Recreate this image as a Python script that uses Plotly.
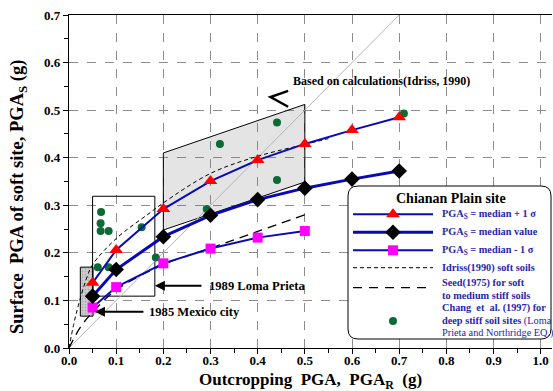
import plotly.graph_objects as go

# ---------------- data ----------------
pga_r = [0.05, 0.1, 0.2, 0.3, 0.4, 0.5, 0.6, 0.7]
pga_plus = [0.137, 0.206, 0.292, 0.351, 0.395, 0.429, 0.458, 0.485]
pga_median = [0.109, 0.165, 0.234, 0.279, 0.312, 0.336, 0.355, 0.372]
pga_r_minus = [0.05, 0.1, 0.2, 0.3, 0.4, 0.5]
pga_minus = [0.085, 0.128, 0.178, 0.209, 0.232, 0.246]

idriss_x = [0.0, 0.01, 0.02, 0.035, 0.05, 0.1, 0.17, 0.2, 0.3, 0.4, 0.5, 0.55]
idriss_y = [0.0, 0.05, 0.09, 0.14, 0.175, 0.23, 0.283, 0.305, 0.367, 0.403, 0.428, 0.44]

seed_x = [0.0, 0.025, 0.05, 0.1, 0.2, 0.3, 0.4, 0.5]
seed_y = [0.0, 0.045, 0.075, 0.122, 0.175, 0.21, 0.245, 0.28]

chang_x = [0.068, 0.067, 0.067, 0.084, 0.061, 0.084, 0.154, 0.184, 0.292, 0.32, 0.441, 0.441, 0.71]
chang_y = [0.286, 0.262, 0.246, 0.246, 0.170, 0.170, 0.254, 0.190, 0.292, 0.429, 0.474, 0.353, 0.493]

diag_x = [0.0, 0.7]
diag_y = [0.0, 0.7]

# annotated regions
calc_x = [0.2, 0.5, 0.5, 0.2, 0.2]
calc_y = [0.41, 0.512, 0.349, 0.248, 0.41]
loma_x = [0.05, 0.182, 0.182, 0.05, 0.05]
loma_y = [0.109, 0.109, 0.319, 0.319, 0.109]
mex_x = [0.024, 0.051, 0.051, 0.024, 0.024]
mex_y = [0.067, 0.067, 0.170, 0.170, 0.067]

x_ticks = [0.0, 0.1, 0.2, 0.3, 0.4, 0.5, 0.6, 0.7, 0.8, 0.9, 1.0]
y_ticks = [0.0, 0.1, 0.2, 0.3, 0.4, 0.5, 0.6, 0.7]

FONT = "Liberation Serif"
BLUE = "#0a0ab4"
TXTBLUE = "#2626b0"

fig = go.Figure()

# regions
fig.add_trace(go.Scatter(x=calc_x, y=calc_y, mode="lines", fill="toself",
                         fillcolor="rgba(120,120,120,0.2)", line=dict(color="black", width=1),
                         hoverinfo="skip", showlegend=False))
fig.add_trace(go.Scatter(x=mex_x, y=mex_y, mode="lines", fill="toself",
                         fillcolor="#c8c8c8",
                         fillpattern=dict(shape=".", bgcolor="#cfcfcf", fgcolor="#8a8a8a", size=3, solidity=0.3),
                         line=dict(color="black", width=1), hoverinfo="skip", showlegend=False))
fig.add_trace(go.Scatter(x=loma_x, y=loma_y, mode="lines", line=dict(color="black", width=1),
                         hoverinfo="skip", showlegend=False))

# 1:1 line
fig.add_trace(go.Scatter(x=diag_x, y=diag_y, mode="lines", line=dict(color="#b4b4b4", width=1),
                         showlegend=False))
# reference curves
fig.add_trace(go.Scatter(x=idriss_x, y=idriss_y, mode="lines", line_shape="spline",
                         line=dict(color="black", width=1, dash="4px,3px"), showlegend=False))
fig.add_trace(go.Scatter(x=seed_x, y=seed_y, mode="lines", line_shape="spline",
                         line=dict(color="black", width=1.3, dash="9px,6px"), showlegend=False))

# Chang dots
fig.add_trace(go.Scatter(x=chang_x, y=chang_y, mode="markers",
                         marker=dict(color="#0b6b35", size=8, symbol="circle"), showlegend=False))

# Chianan plain series
fig.add_trace(go.Scatter(x=pga_r_minus, y=pga_minus, mode="lines+markers",
                         line=dict(color=BLUE, width=2),
                         marker=dict(symbol="square", color="#ff00ff", size=10), showlegend=False))
fig.add_trace(go.Scatter(x=pga_r, y=pga_median, mode="lines+markers",
                         line=dict(color=BLUE, width=3),
                         marker=dict(symbol="diamond", color="black", size=12), showlegend=False))
fig.add_trace(go.Scatter(x=pga_r, y=pga_plus, mode="lines+markers",
                         line=dict(color=BLUE, width=2),
                         marker=dict(symbol="triangle-up", color="red", size=12), showlegend=False))

# empty trace so the overlaid tick axis is certainly drawn
fig.add_trace(go.Scatter(x=[], y=[], xaxis="x3", yaxis="y", mode="markers",
                         showlegend=False, hoverinfo="skip"))

# ---------------- custom legend (pixel-coordinate overlay subplot) ----------------
LX0, LX1 = 353, 433
rows = [214.3, 232.3, 250.3, 267.7, 287.7, 321]
fig.add_trace(go.Scatter(x=[LX0, LX1], y=[rows[0]] * 2, xaxis="x2", yaxis="y2", mode="lines",
                         line=dict(color=BLUE, width=2), showlegend=False, hoverinfo="skip"))
fig.add_trace(go.Scatter(x=[393], y=[rows[0]], xaxis="x2", yaxis="y2", mode="markers",
                         marker=dict(symbol="triangle-up", color="red", size=12), showlegend=False, hoverinfo="skip"))
fig.add_trace(go.Scatter(x=[LX0, LX1], y=[rows[1]] * 2, xaxis="x2", yaxis="y2", mode="lines",
                         line=dict(color=BLUE, width=3), showlegend=False, hoverinfo="skip"))
fig.add_trace(go.Scatter(x=[393], y=[rows[1]], xaxis="x2", yaxis="y2", mode="markers",
                         marker=dict(symbol="diamond", color="black", size=12), showlegend=False, hoverinfo="skip"))
fig.add_trace(go.Scatter(x=[LX0, LX1], y=[rows[2]] * 2, xaxis="x2", yaxis="y2", mode="lines",
                         line=dict(color=BLUE, width=2), showlegend=False, hoverinfo="skip"))
fig.add_trace(go.Scatter(x=[393], y=[rows[2]], xaxis="x2", yaxis="y2", mode="markers",
                         marker=dict(symbol="square", color="#ff00ff", size=10), showlegend=False, hoverinfo="skip"))
fig.add_trace(go.Scatter(x=[LX0, LX1], y=[rows[3]] * 2, xaxis="x2", yaxis="y2", mode="lines",
                         line=dict(color="black", width=1, dash="4px,3px"), showlegend=False, hoverinfo="skip"))
fig.add_trace(go.Scatter(x=[LX0, 430], y=[rows[4]] * 2, xaxis="x2", yaxis="y2", mode="lines",
                         line=dict(color="black", width=1.3, dash="9px,7px"), showlegend=False, hoverinfo="skip"))
fig.add_trace(go.Scatter(x=[393], y=[rows[5]], xaxis="x2", yaxis="y2", mode="markers",
                         marker=dict(color="#0b6b35", size=8), showlegend=False, hoverinfo="skip"))

BX0, BX1, BY0, BY1, R = 348, 551, 186, 339, 10
box_path = (f"M {BX0+R},{BY0} L {BX1-R},{BY0} Q {BX1},{BY0} {BX1},{BY0+R} "
            f"L {BX1},{BY1-R} Q {BX1},{BY1} {BX1-R},{BY1} L {BX0+R},{BY1} "
            f"Q {BX0},{BY1} {BX0},{BY1-R} L {BX0},{BY0+R} Q {BX0},{BY0} {BX0+R},{BY0} Z")
fig.add_shape(type="path", path=box_path, xref="x2", yref="y2", layer="below",
              fillcolor="white", line=dict(color="black", width=1))

legend_lines = [
    ("<b>PGA<sub>S</sub> = median + 1 σ</b>", rows[0]),
    ("<b>PGA<sub>S</sub> = median value</b>", rows[1]),
    ("<b>PGA<sub>S</sub> = median - 1 σ</b>", rows[2]),
    ("<b>Idriss(1990) soft soils</b>", rows[3]),
    ("<b>Seed(1975) for soft</b>", 282.7),
    ("<b>to medium stiff soils</b>", 295.0),
    ("<b>Chang  et  al. (1997) for</b>", 308.3),
    ("<b>deep stiff soil sites</b> (Loma", 320.7),
    ("Prieta and Northridge EQ.)", 332.7),
]
for txt, yy in legend_lines:
    fig.add_annotation(x=440, y=yy, xref="x2", yref="y2", text=txt, showarrow=False,
                       xanchor="left", yanchor="middle",
                       font=dict(family=FONT, size=10.3, color=TXTBLUE))
fig.add_annotation(x=451, y=198, xref="x2", yref="y2", text="<b>Chianan Plain site</b>",
                   showarrow=False, xanchor="center", yanchor="middle",
                   font=dict(family=FONT, size=14, color="black"))

# ---------------- annotations on the chart ----------------
fig.add_annotation(x=0.47, y=0.5615, xref="x", yref="y", text="<b>Based on calculations(Idriss, 1990)</b>",
                   showarrow=False, xanchor="left", yanchor="middle",
                   font=dict(family=FONT, size=12, color="black"))
fig.add_shape(type="path", path="M 0.4646,0.5405 L 0.4273,0.5276 L 0.4646,0.5071",
              xref="x", yref="y", line=dict(color="black", width=2.5))

fig.add_annotation(x=0.182, y=0.131, xref="x", yref="y", ax=0.284, ay=0.131, axref="x", ayref="y",
                   text="", showarrow=True, arrowhead=2, arrowsize=1, arrowwidth=2, arrowcolor="black")
fig.add_annotation(x=0.293, y=0.131, xref="x", yref="y", text="<b>1989 Loma Prieta</b>",
                   showarrow=False, xanchor="left", yanchor="middle",
                   font=dict(family=FONT, size=12.6, color="black"))
fig.add_annotation(x=0.055, y=0.076, xref="x", yref="y", ax=0.161, ay=0.076, axref="x", ayref="y",
                   text="", showarrow=True, arrowhead=2, arrowsize=1, arrowwidth=2, arrowcolor="black")
fig.add_annotation(x=0.165, y=0.076, xref="x", yref="y", text="<b>1985 Mexico city</b>",
                   showarrow=False, xanchor="left", yanchor="middle",
                   font=dict(family=FONT, size=12.6, color="black"))

# axis titles
fig.add_annotation(x=0.5, y=-0.099, xref="paper", yref="paper",
                   text="<b>Outcropping  PGA,  PGA<sub>R</sub>  (g)</b>", showarrow=False,
                   xanchor="center", yanchor="middle", font=dict(family=FONT, size=17, color="black"))
fig.add_annotation(x=-0.106, y=0.453, xref="paper", yref="paper", textangle=-90,
                   text="<b>Surface  PGA of soft site, PGA<sub>S</sub> (g)</b>", showarrow=False,
                   xanchor="center", yanchor="middle", font=dict(family=FONT, size=18.5, color="black"))

tickfont = dict(family=FONT, size=13, color="black", weight="bold")

fig.update_layout(
    width=553, height=391,
    margin=dict(l=69, r=1, t=15, b=43),
    paper_bgcolor="white", plot_bgcolor="rgba(0,0,0,0)",
    font=dict(family=FONT),
    # main x axis: labels + grid (ticks drawn by the overlaid tick axis below)
    xaxis=dict(range=[0, 1.024], tickvals=x_ticks, mirror=True, ticks="",
               showline=True, linecolor="black", linewidth=1.3,
               showgrid=True, gridcolor="#8c8c8c", gridwidth=1, griddash="dash",
               zeroline=False, tickfont=tickfont, tickformat=".1f"),
    xaxis3=dict(range=[0, 1.024], overlaying="x", anchor="y", side="bottom",
                tickvals=x_ticks, ticks="outside", ticklen=5, tickwidth=1, tickcolor="black",
                showticklabels=False, showgrid=False, showline=False, zeroline=False,
                minor=dict(ticks="outside", ticklen=4, dtick=0.05, tick0=0, tickcolor="black", showgrid=False)),
    yaxis=dict(range=[0, 0.7], tickvals=y_ticks,
               showline=True, linecolor="black", linewidth=1.3,
               ticks="outside", ticklen=5, tickwidth=1, tickcolor="black",
               showgrid=True, gridcolor="#8c8c8c", gridwidth=1, griddash="dash",
               zeroline=False, tickfont=tickfont, tickformat=".1f",
               minor=dict(ticks="outside", ticklen=4, dtick=0.05, tick0=0, tickcolor="black", showgrid=False)),
    xaxis2=dict(domain=[0, 1], range=[69, 552], visible=False, anchor="y2", fixedrange=True),
    yaxis2=dict(domain=[0, 1], range=[348, 15], visible=False, anchor="x2", fixedrange=True),
    showlegend=False,
)

fig.write_html("out.html")
